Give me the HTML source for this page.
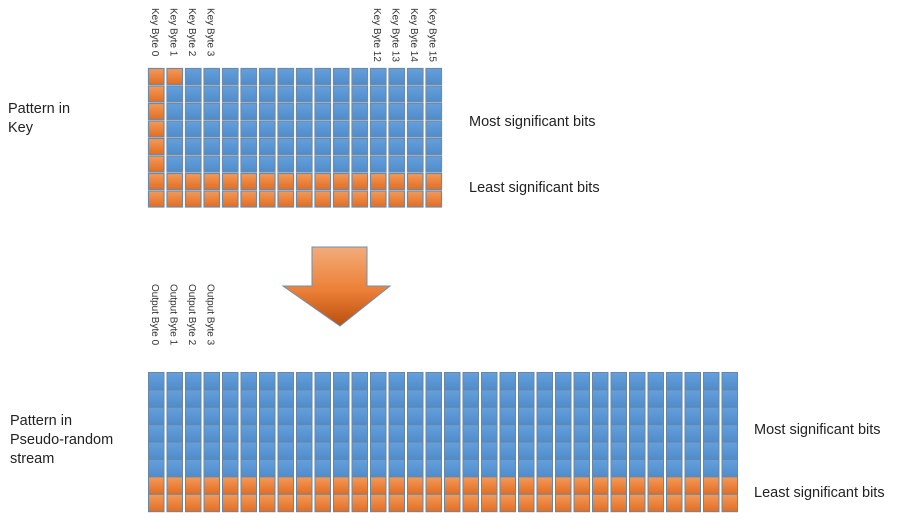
<!DOCTYPE html>
<html><head><meta charset="utf-8"><style>
body{margin:0;background:#fff;width:897px;height:527px;overflow:hidden;font-family:"Liberation Sans",sans-serif;}
</style></head><body>
<svg id="s" width="897" height="527" xmlns="http://www.w3.org/2000/svg">
<defs>
<linearGradient id="bl" x1="0" y1="0" x2="0" y2="1"><stop offset="0" stop-color="#64a0dc"/><stop offset="1" stop-color="#4f8cca"/></linearGradient>
<linearGradient id="or" x1="0" y1="0" x2="0" y2="1"><stop offset="0" stop-color="#f39a58"/><stop offset="1" stop-color="#e36d22"/></linearGradient>
<linearGradient id="ar" x1="0" y1="0" x2="0" y2="1"><stop offset="0" stop-color="#f3ac7a"/><stop offset="0.55" stop-color="#ec7f36"/><stop offset="1" stop-color="#b9500f"/></linearGradient>
</defs>
<g font-size="14.5" fill="#222">
<text x="8" y="113">Pattern in</text>
<text x="8" y="132">Key</text>
<text x="469" y="126">Most significant bits</text>
<text x="469" y="192">Least significant bits</text>
<text x="10" y="425">Pattern in</text>
<text x="10" y="444">Pseudo-random</text>
<text x="10" y="463">stream</text>
<text x="754" y="434">Most significant bits</text>
<text x="754" y="497">Least significant bits</text>
</g>
<path d="M312,247 H367 V286 H390 L340,326 L283,286 H312 Z" fill="url(#ar)" stroke="#6d8fb5" stroke-width="1"/>
<g id="top"></g><g id="bot"></g><g id="labs"></g>
</svg>
<script>
const topCols = 16, botCols = 32, rows = 8;
const keyLabels = ["Key Byte 0","Key Byte 1","Key Byte 2","Key Byte 3","","","","","","","","","Key Byte 12","Key Byte 13","Key Byte 14","Key Byte 15"];
const outLabels = ["Output Byte 0","Output Byte 1","Output Byte 2","Output Byte 3"];
const topOrangeCols = [0];
const topOrangeCells = [[1,0]];
const lsbRows = [6,7];
const NS="http://www.w3.org/2000/svg";
const pitch=18.5, x0=148, rowH=17.5;
function isOrangeTop(c,r){return topOrangeCols.includes(c)||lsbRows.includes(r)||topOrangeCells.some(p=>p[0]===c&&p[1]===r);}
const tg=document.getElementById('top');
for(let c=0;c<topCols;c++)for(let r=0;r<rows;r++){
  const e=document.createElementNS(NS,'rect');
  e.setAttribute('x',x0+c*pitch+0.5);e.setAttribute('y',68+r*rowH+0.5);
  e.setAttribute('width',pitch-3);e.setAttribute('height',rowH-1.5);
  e.setAttribute('fill',isOrangeTop(c,r)?'url(#or)':'url(#bl)');
  e.setAttribute('stroke','#6f8aa8');e.setAttribute('stroke-width','1.2');
  
  
  tg.appendChild(e);
}
const bg=document.getElementById('bot');
for(let c=0;c<botCols;c++)for(let r=0;r<rows;r++){
  const e=document.createElementNS(NS,'rect');
  e.setAttribute('x',x0+c*pitch+0.5);e.setAttribute('y',372+r*17.4+0.5);
  e.setAttribute('width',pitch-3);e.setAttribute('height',17.4);
  e.setAttribute('fill',lsbRows.includes(r)?'url(#or)':'url(#bl)');
  e.setAttribute('stroke','#6a86a6');e.setAttribute('stroke-width','1');
  
  
  bg.appendChild(e);
}
const lg=document.getElementById('labs');
function lab(txt,cx,y,name){
  const t=document.createElementNS(NS,'text');
  t.setAttribute('transform','translate('+(cx-4)+','+y+') rotate(90)');
  t.setAttribute('font-size','10');t.setAttribute('fill','#333');
  t.textContent=txt;
  
  
  lg.appendChild(t);
}
keyLabels.forEach((l,i)=>{if(l)lab(l,x0+i*pitch+8,8,'key-byte-label');});
outLabels.forEach((l,i)=>lab(l,x0+i*pitch+8,284,'output-byte-label'));
</script>
</body></html>
